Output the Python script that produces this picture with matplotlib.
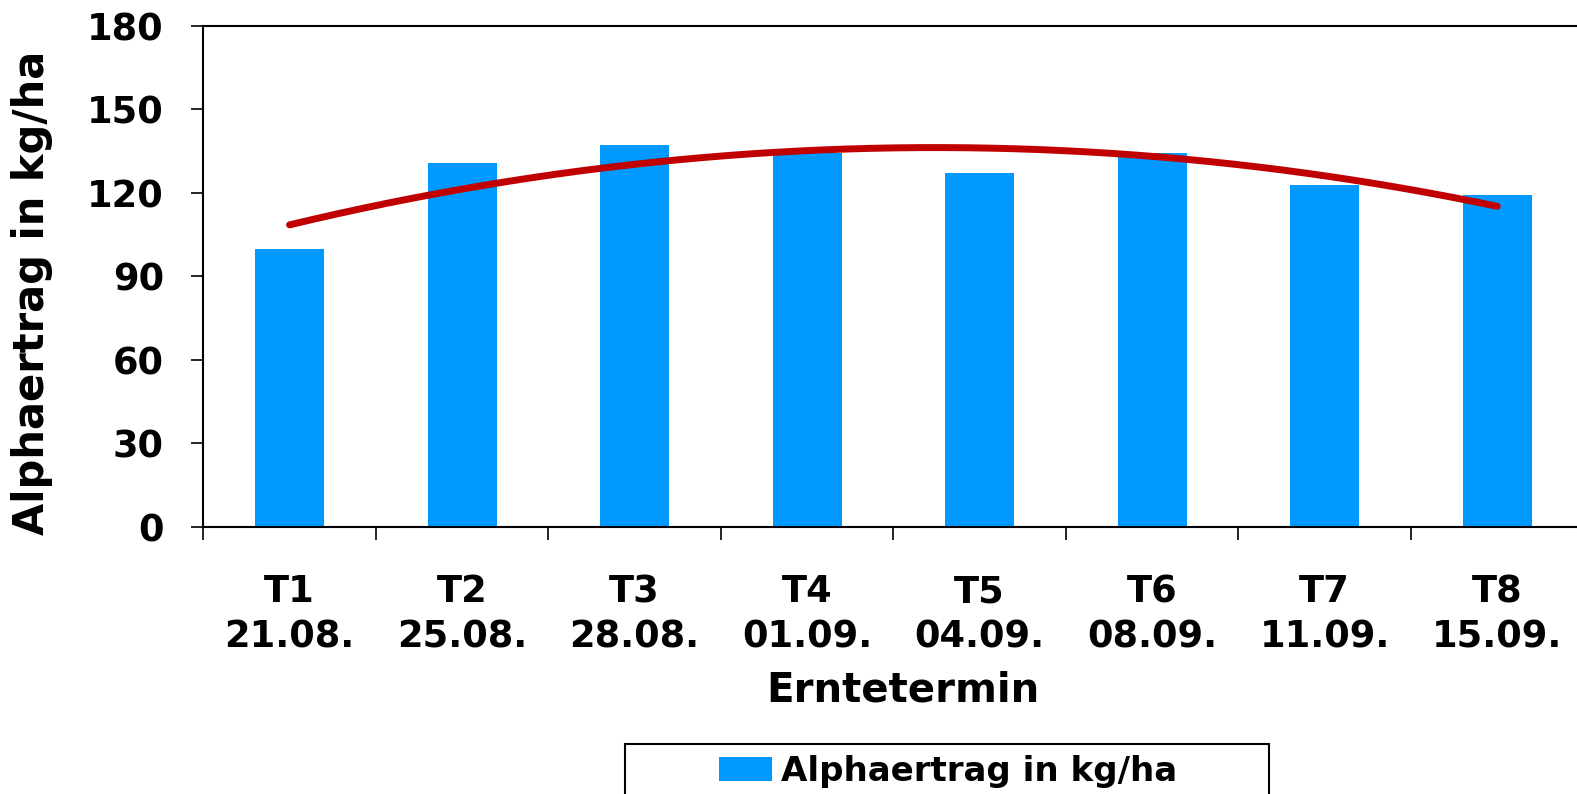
import numpy as np
import matplotlib
matplotlib.use('Agg')
import matplotlib.pyplot as plt
from matplotlib.patches import Rectangle

# Erntetermine und Alphaertrag
termine = ['T1', 'T2', 'T3', 'T4', 'T5', 'T6', 'T7', 'T8']
daten = ['21.08.', '25.08.', '28.08.', '01.09.', '04.09.', '08.09.', '11.09.', '15.09.']
alphaertrag = [100.0, 130.7, 137.2, 134.5, 127.1, 134.3, 122.9, 119.3]
y_ticks = [0, 30, 60, 90, 120, 150, 180]

plt.rcParams['font.family'] = 'DejaVu Sans'
plt.rcParams['font.weight'] = 'bold'

W, H = 1577, 794
fig = plt.figure(figsize=(W / 100, H / 100), dpi=100)
ax = fig.add_axes([203.3 / W, 1 - 526.7 / H, 1380.2 / W, 500.7 / H])

x = np.arange(len(termine))
bars = ax.bar(x, alphaertrag, width=0.40, color='#0099FF', zorder=2,
              label='Alphaertrag in kg/ha')

# polynomischer Trend (2. Ordnung)
coef = np.polyfit(x, alphaertrag, 2)
xs = np.linspace(x[0], x[-1], 300)
ax.plot(xs, np.polyval(coef, xs), color='#C00000', lw=5, solid_capstyle='round', zorder=3)

ax.set_xlim(-0.5, len(termine) - 0.5)
ax.set_ylim(0, 180)
ax.set_yticks(y_ticks)
ax.set_yticklabels([str(v) for v in y_ticks], fontsize=26.5, fontweight='bold')

ax.set_xticks(x)
ax.set_xticklabels([t + '\n' + d for t, d in zip(termine, daten)],
                   fontsize=26.5, fontweight='bold', linespacing=1.28)
ax.set_xticks(np.arange(-0.5, len(termine)), minor=True)
ax.tick_params(axis='x', which='major', length=0, pad=33.5)
ax.tick_params(axis='x', which='minor', length=9.5, width=1.2, direction='out')
ax.tick_params(axis='y', length=8.4, width=1.2, direction='out', pad=20)

for side in ['left', 'bottom', 'top', 'right']:
    ax.spines[side].set_linewidth(1.5)

fig.text(32 / W, 1 - 293 / H, 'Alphaertrag in kg/ha', rotation=90,
         ha='center', va='center', fontsize=30, fontweight='bold')
fig.text(903 / W, 1 - 691 / H, 'Erntetermin', ha='center', va='center',
         fontsize=29, fontweight='bold')

# Legendenrahmen
fig.patches.append(Rectangle((625 / W, -0.05), 644 / W, (794 - 744) / H + 0.05,
                             transform=fig.transFigure, fill=False,
                             edgecolor='black', lw=1.5))
fig.legend(handles=[bars], loc='center', bbox_to_anchor=(948 / W, 1 - 771 / H),
           frameon=False, prop={'size': 24.5, 'weight': 'bold'},
           handlelength=1.55, handleheight=0.7, handletextpad=0.25)

fig.savefig('out.png', dpi=100)
